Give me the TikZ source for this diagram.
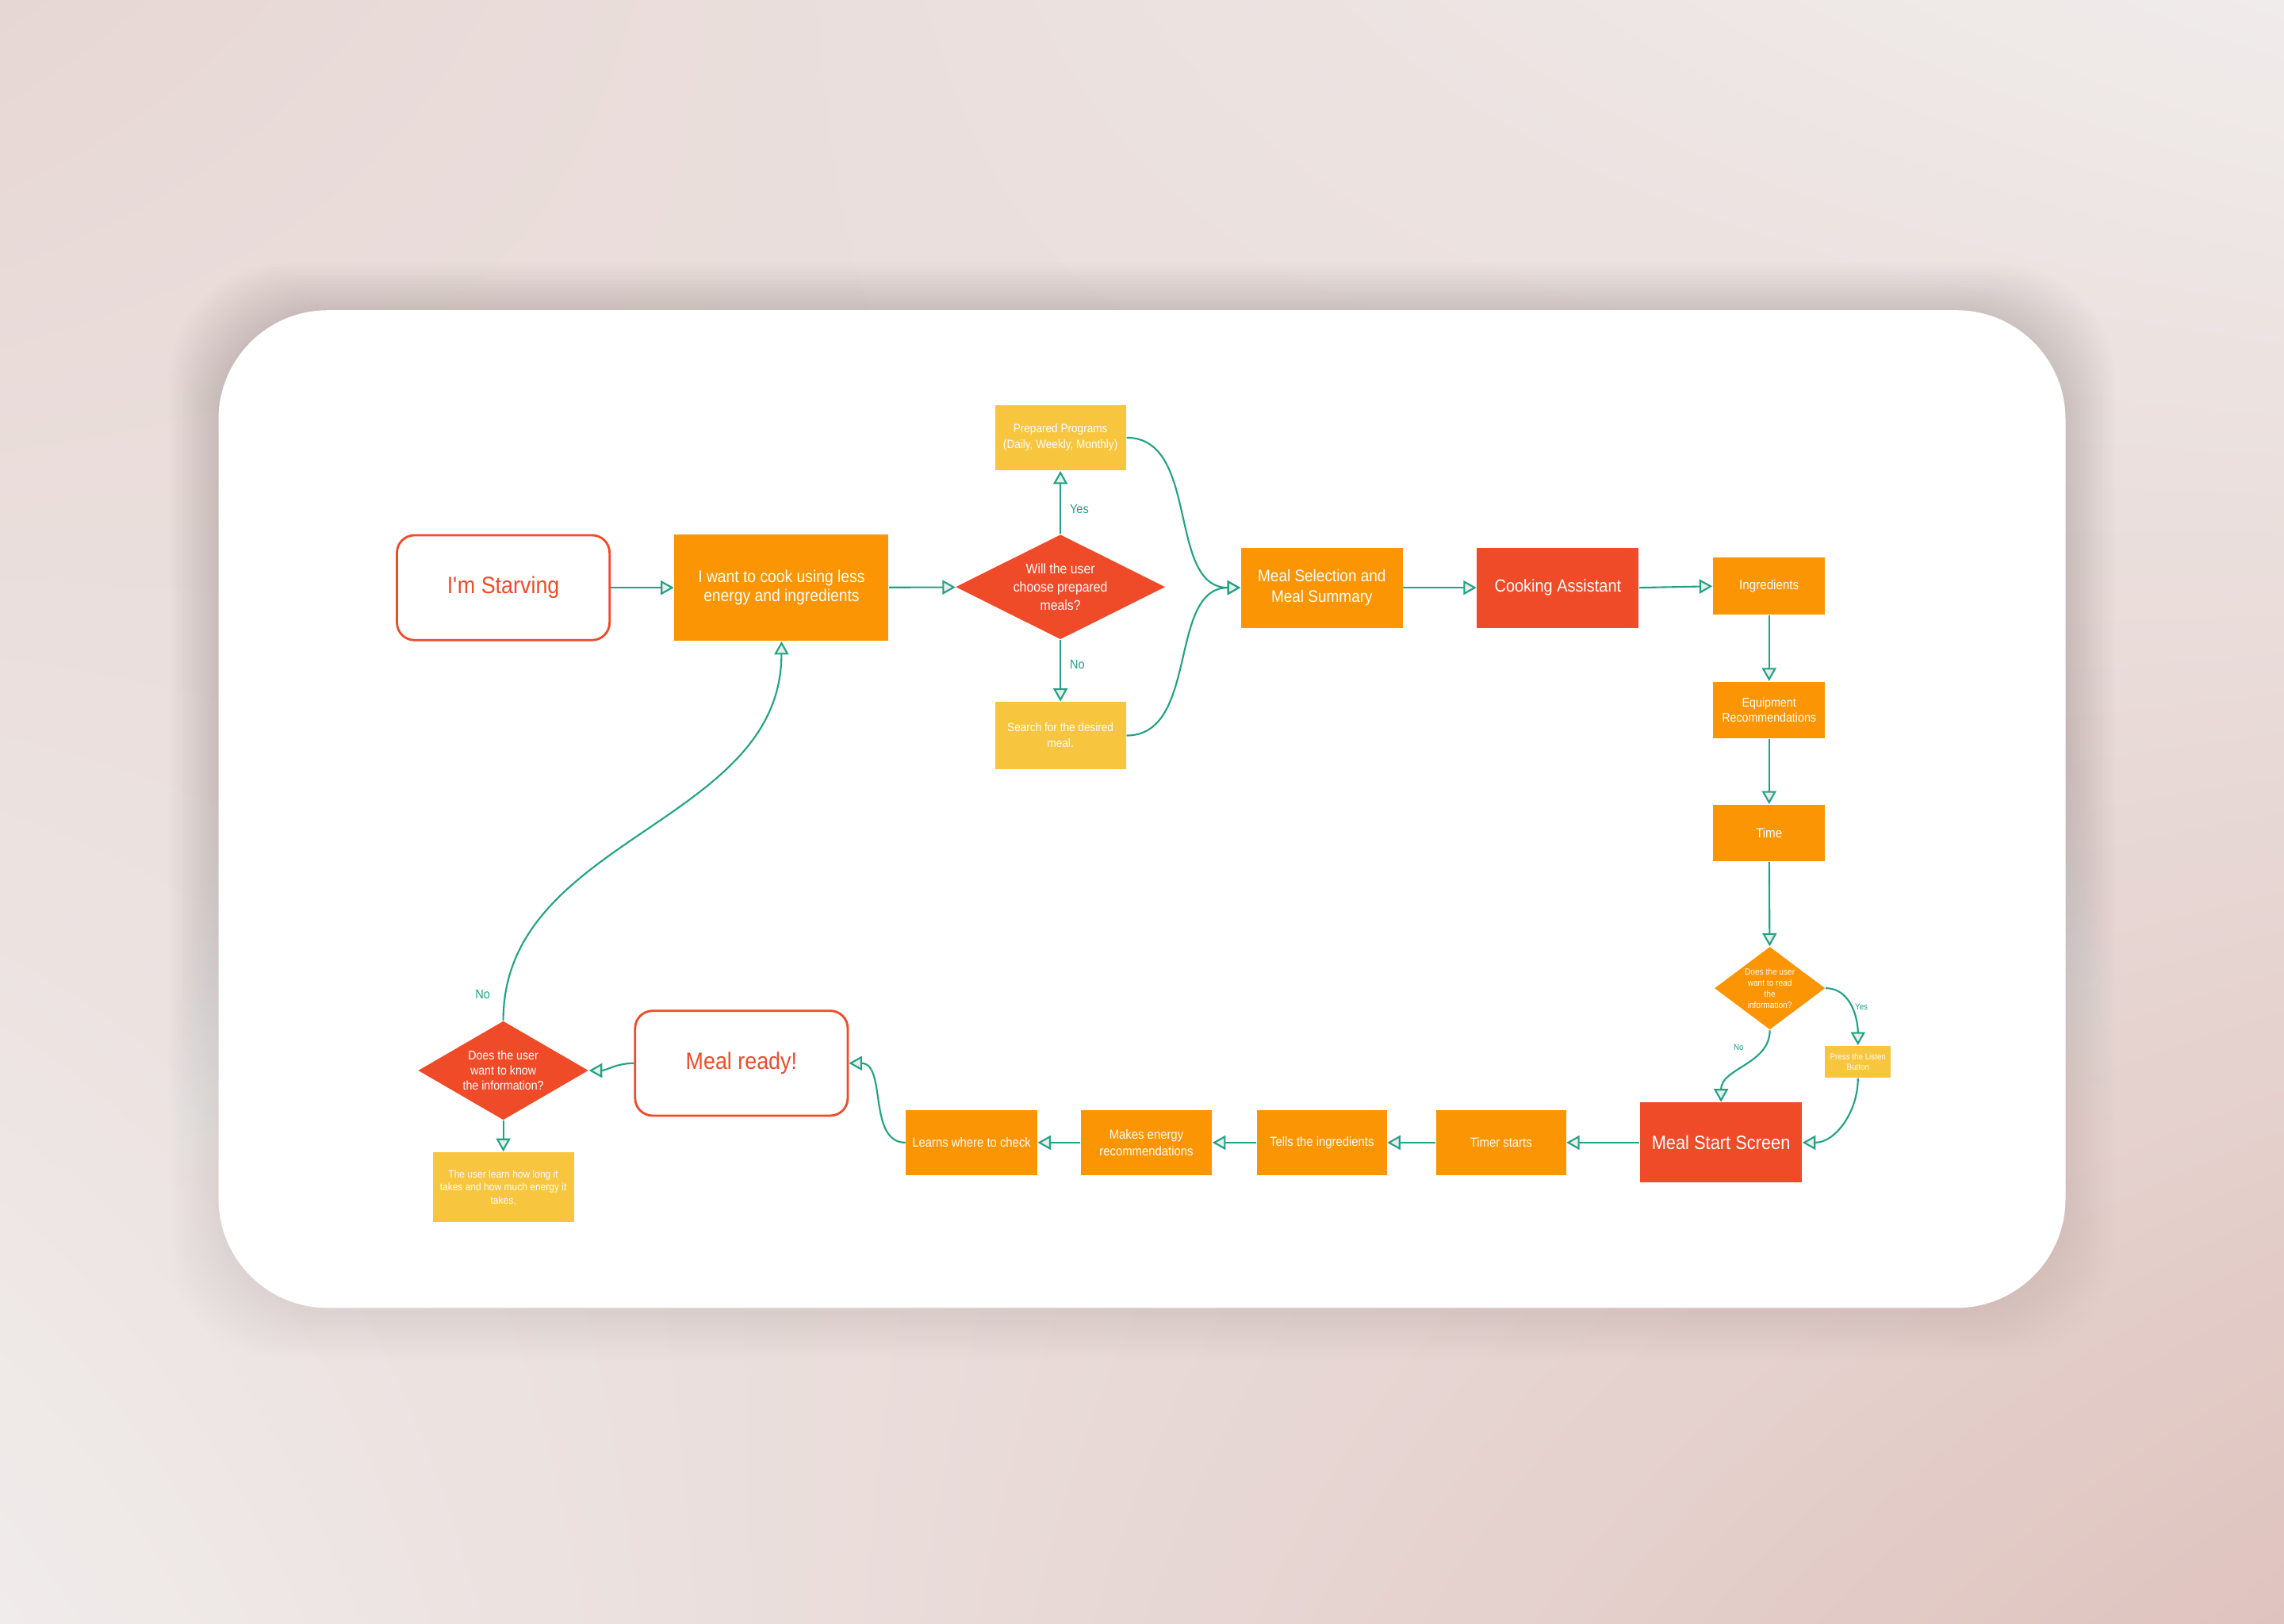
\documentclass[tikz,border=0pt]{standalone}
\usepackage{fontspec}
\setmainfont{Liberation Sans}[FakeStretch=0.9]
\usetikzlibrary{arrows.meta,shapes.geometric,shadings,positioning}
\newlength\px
\setlength\px{0.18367mm}
\definecolor{orangec}{HTML}{FC9503}
\definecolor{redc}{HTML}{F04B28}
\definecolor{yellowc}{HTML}{F8C53F}
\definecolor{linec}{HTML}{1FA384}
\definecolor{tipfill}{HTML}{E9ECEB}
\definecolor{bgA}{HTML}{E7D7D4}
\definecolor{bgB}{HTML}{F0ECEB}
\definecolor{bgC}{HTML}{DFC3BE}
\definecolor{shade}{HTML}{6A5450}

\begin{document}
\begin{tikzpicture}[x=\px,y=-\px,
    flow/.style={draw=linec,line width=0.6pt,-{Triangle[length=1.65mm,width=1.8mm,fill=tipfill]}},
    box/.style={rectangle,fill=orangec,text=white,inner sep=1pt,align=center},
    redbox/.style={box,fill=redc},
    notebox/.style={box,fill=yellowc},
    endbox/.style={rectangle,draw=redc,line width=0.8pt,fill=white,text=redc,rounded corners=12\px,
        minimum width=146\px,minimum height=72\px,font=\fontsize{8.5}{10}\selectfont},
    ask/.style={diamond,inner sep=0pt,text=white,align=center},
    lab/.style={text=linec,inner sep=1pt,font=\fontsize{4.6}{5.5}\selectfont}]
    %背景
    \shade[upper left=bgA,upper right=bgB,lower left=bgB,lower right=bgC](0,0)rectangle(1568,1115);
    \useasboundingbox(0,0)rectangle(1568,1115);
    \foreach \s in {2,4,...,34}
        \fill[shade,opacity=0.0055,rounded corners=80\px](150-\s,213-\s+2)rectangle(1418+\s,898+\s+2);
    \fill[white,rounded corners=75\px](150,213)rectangle(1418,898);

    %上の段
    \node[endbox](starving)at(345.5,403.5){I\textquotesingle m Starving};
    \node[box,minimum width=147\px,minimum height=73\px,font=\fontsize{6.1}{6.8}\selectfont](cook)at(536.5,403.5)
        {I want to cook using less\\energy and ingredients};
    \node[ask,fill=redc,aspect=2,minimum width=144\px,minimum height=72\px,font=\fontsize{5}{6.6}\selectfont](choose)at(728,403)
        {Will the user\\choose prepared\\meals?};
    \node[notebox,minimum width=90\px,minimum height=45\px,font=\fontsize{4.3}{5.7}\selectfont](programs)at(728,300.5)
        {Prepared Programs\\(Daily, Weekly, Monthly)};
    \node[notebox,minimum width=90\px,minimum height=46\px,font=\fontsize{4.3}{5.7}\selectfont](search)at(728,505)
        {Search for the desired\\meal.};
    \node[box,minimum width=111\px,minimum height=55\px,font=\fontsize{6}{7.4}\selectfont](summary)at(907.5,403.5)
        {Meal Selection and\\Meal Summary};
    \node[redbox,minimum width=111\px,minimum height=55\px,font=\fontsize{6.3}{7.4}\selectfont](assistant)at(1069.5,403.5)
        {Cooking Assistant};

    %右の列
    \node[box,minimum width=77\px,minimum height=39\px,font=\fontsize{4.8}{5.8}\selectfont](ingredients)at(1214.5,402.5){Ingredients};
    \node[box,minimum width=77\px,minimum height=39\px,font=\fontsize{4.5}{5.6}\selectfont](equipment)at(1214.5,487.5)
        {Equipment\\Recommendations};
    \node[box,minimum width=77\px,minimum height=39\px,font=\fontsize{4.8}{5.8}\selectfont](time)at(1214.5,572){Time};
    \node[ask,fill=orangec,aspect=1.33,minimum width=76\px,minimum height=57\px,font=\fontsize{3.2}{4}\selectfont](read)at(1215,678.5)
        {Does the user\\want to read\\the\\information?};
    \node[notebox,minimum width=45\px,minimum height=22\px,font=\fontsize{3.1}{3.9}\selectfont](listen)at(1275.5,729)
        {Press the Listen\\Button};

    %下の段
    \node[redbox,minimum width=111\px,minimum height=55\px,font=\fontsize{6.9}{8}\selectfont](startscreen)at(1181.5,784.5)
        {Meal Start Screen};
    \node[box,minimum width=89\px,minimum height=45\px,font=\fontsize{4.7}{5.8}\selectfont](timer)at(1030.5,784.5){Timer starts};
    \node[box,minimum width=89\px,minimum height=45\px,font=\fontsize{4.7}{5.8}\selectfont](tells)at(907.5,784.5){Tells the ingredients};
    \node[box,minimum width=90\px,minimum height=45\px,font=\fontsize{4.7}{5.8}\selectfont](energy)at(787,784.5)
        {Makes energy\\recommendations};
    \node[box,minimum width=90\px,minimum height=45\px,font=\fontsize{4.7}{5.8}\selectfont](check)at(667,784.5){Learns where to check};
    \node[endbox](ready)at(509,730){Meal ready!};
    \node[ask,fill=redc,aspect=1.72,minimum width=117\px,minimum height=68\px,font=\fontsize{4.5}{5.4}\selectfont](know)at(345.5,735)
        {Does the user\\want to know\\the information?};
    \node[notebox,minimum width=97\px,minimum height=48\px,font=\fontsize{3.8}{4.7}\selectfont](learn)at(345.5,815)
        {The user learn how long it\\takes and how much energy it\\takes.};

    %矢印
    \path[flow](starving)to(cook);
    \path[flow](cook)to(choose);
    \path[flow](choose)to node[lab,right=4\px,pos=0.4]{Yes}(programs);
    \path[flow](choose)to node[lab,right=4\px,pos=0.4]{No}(search);
    \path[flow](programs.east)to[out=0,in=180](summary.west);
    \path[flow](search.east)to[out=0,in=180](summary.west);
    \path[flow](summary)to(assistant);
    \path[flow](assistant.east)to(ingredients.west);
    \path[flow](ingredients)to(equipment);
    \path[flow](equipment)to(time);
    \path[flow](time)to(read);
    \path[flow](read.east)to[out=0,in=90]node[lab,pos=0.5,right,font=\fontsize{3.1}{3.7}\selectfont]{Yes}(listen.north);
    \path[flow](read.south)to[out=-90,in=90]node[lab,pos=0.2,left=12\px,font=\fontsize{3.1}{3.7}\selectfont]{No}(startscreen.north);
    \path[flow](listen.south)to[out=-90,in=0](startscreen.east);
    \path[flow](startscreen)to(timer);
    \path[flow](timer)to(tells);
    \path[flow](tells)to(energy);
    \path[flow](energy)to(check);
    \path[flow](check.west)to[out=180,in=0](ready.east);
    \path[flow](ready.west)to[out=180,in=0](know.east);
    \path[flow](know.north)to[out=90,in=-90]node[lab,pos=0.05,left=8\px]{No}(cook.south);
    \path[flow](know)to(learn);
\end{tikzpicture}
\end{document}
